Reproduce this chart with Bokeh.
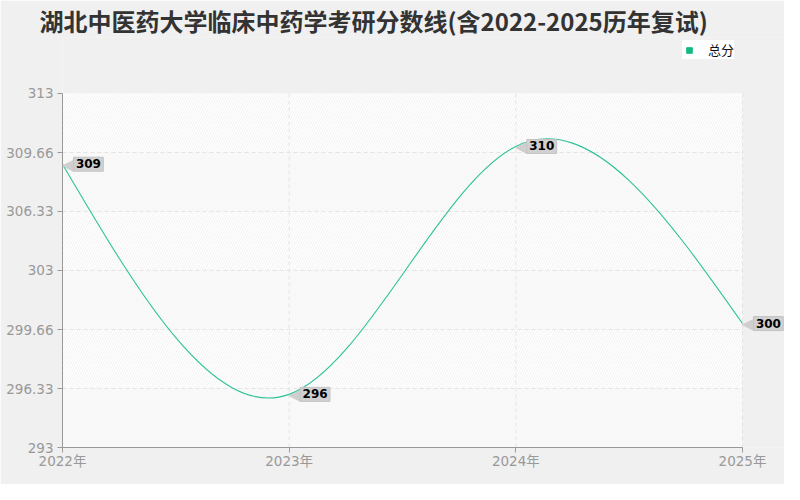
import numpy as np
from bokeh.plotting import figure
from bokeh.core.properties import value
from bokeh.models import (ColumnDataSource, FixedTicker, LabelSet, Legend,
                          LegendItem, Range1d)
from bokeh.embed import file_html
from bokeh.resources import INLINE

# ---- data ----
title_text = "湖北中医药大学临床中药学考研分数线(含2022-2025历年复试)"
series_name = "总分"
years = [2022, 2023, 2024, 2025]
year_labels = ["2022年", "2023年", "2024年", "2025年"]
scores = [309, 296, 310, 300]
y_ticks = [293, 296.33, 299.66, 303, 306.33, 309.66, 313]
y_tick_labels = ["293", "296.33", "299.66", "303", "306.33", "309.66", "313"]

LINE = "#2cc297"
LEG = "#14b981"
AXIS = "#999999"
GRID = "#e4e4e4"
BG = "#f0f0f0"
CJK = "Noto Sans CJK SC"

# layout (pixels, figure coordinates)
W, H = 784, 484
LEFT, TOP, BOTTOM = 62, 36, 37
AX_RIGHT, AX_TOP = 742, 92          # where the axes' ends should land
px_x = (AX_RIGHT - LEFT) / (years[-1] - years[0])
px_y = (H - BOTTOM - AX_TOP) / (y_ticks[-1] - y_ticks[0])
x_end = years[-1] + (W - AX_RIGHT) / px_x
y_end = y_ticks[-1] + (AX_TOP - TOP) / px_y

p = figure(width=W, height=H, output_backend="svg", toolbar_location=None,
           x_range=Range1d(years[0], x_end),
           y_range=Range1d(y_ticks[0], y_end),
           min_border_left=LEFT, min_border_right=0,
           min_border_top=TOP, min_border_bottom=BOTTOM)
p.background_fill_color = BG
p.border_fill_color = BG
p.outline_line_color = None
p.xgrid.visible = False
p.ygrid.visible = False

# ---- title ----
p.title.text = title_text
p.title.text_font = CJK
p.title.text_font_size = "24px"
p.title.text_font_style = "bold"
p.title.text_color = "#333333"
p.title.align = "left"
p.title.offset = -23
p.title.standoff = 0

# ---- alternating background bands ----
lows = y_ticks[:-1]
highs = y_ticks[1:]
hat_b = [lo for i, lo in enumerate(lows) if i % 2 == 1]
hat_t = [hi for i, hi in enumerate(highs) if i % 2 == 1]
lt_b = [lo for i, lo in enumerate(lows) if i % 2 == 0]
lt_t = [hi for i, hi in enumerate(highs) if i % 2 == 0]
p.quad(left=years[0], right=years[-1], bottom=hat_b, top=hat_t,
       fill_color="white", line_color=None,
       hatch_pattern="/", hatch_color="#ececec", hatch_scale=5,
       hatch_weight=0.7, level="image")
p.quad(left=years[0], right=years[-1], bottom=lt_b, top=lt_t,
       fill_color="#fafafa", line_color=None,
       hatch_pattern="/", hatch_color="#f4f4f4", hatch_scale=5,
       hatch_weight=0.7, level="image")

# ---- grid lines (limited to the axes' extent) ----
inner = y_ticks[1:-1]
p.segment(x0=[years[0]] * len(inner), x1=[years[-1]] * len(inner),
          y0=inner, y1=inner, line_color=GRID, line_dash="4 3", line_width=1,
          level="underlay")
p.segment(x0=years[1:], x1=years[1:],
          y0=[y_ticks[0]] * (len(years) - 1), y1=[y_ticks[-1]] * (len(years) - 1),
          line_color=GRID, line_dash="4 3", line_width=1, level="underlay")

# ---- natural cubic spline through the data, drawn as bezier segments ----
xs = np.array(years, dtype=float)
ys = np.array(scores, dtype=float)
n = len(xs)
h = np.diff(xs)
A = np.zeros((n, n))
rhs = np.zeros(n)
A[0, 0] = 1
A[-1, -1] = 1
for i in range(1, n - 1):
    A[i, i - 1] = h[i - 1]
    A[i, i] = 2 * (h[i - 1] + h[i])
    A[i, i + 1] = h[i]
    rhs[i] = 6 * ((ys[i + 1] - ys[i]) / h[i] - (ys[i] - ys[i - 1]) / h[i - 1])
M = np.linalg.solve(A, rhs)
d0 = (ys[1:] - ys[:-1]) / h - h * (2 * M[:-1] + M[1:]) / 6
d1 = (ys[1:] - ys[:-1]) / h + h * (M[:-1] + 2 * M[1:]) / 6
p.bezier(x0=xs[:-1], y0=ys[:-1], x1=xs[1:], y1=ys[1:],
         cx0=xs[:-1] + h / 3, cy0=ys[:-1] + h * d0 / 3,
         cx1=xs[1:] - h / 3, cy1=ys[1:] - h * d1 / 3,
         line_color=LINE, line_width=1.1)

# ---- callout labels ----
src = ColumnDataSource(dict(x=years, y=scores,
                            t=["\u2009%d\u2009" % v for v in scores],
                            a=["\u25c0"] * n))
arrows = LabelSet(x="x", y="y", text="a", source=src, x_offset=-1, y_offset=0,
                  text_align="left", text_baseline="middle",
                  text_font=value("DejaVu Sans"), text_font_size="16px",
                  text_color="#cfcfcf")
boxes = LabelSet(x="x", y="y", text="t", source=src, x_offset=11, y_offset=0,
                 text_align="left", text_baseline="middle",
                 text_font=value("DejaVu Sans"), text_font_size="12px",
                 text_font_style="bold", text_color="black",
                 background_fill_color="#d0d0d0", border_line_color="#c4c4c4")
p.add_layout(arrows)
p.add_layout(boxes)

# ---- axes ----
p.xaxis.ticker = FixedTicker(ticks=years)
p.xaxis.major_label_overrides = dict(zip(years, year_labels))
p.xaxis.bounds = (years[0], years[-1])
p.yaxis.ticker = FixedTicker(ticks=y_ticks)
p.yaxis.major_label_overrides = dict(zip(y_ticks, y_tick_labels))
p.yaxis.bounds = (y_ticks[0], y_ticks[-1])
for ax in (p.xaxis[0], p.yaxis[0]):
    ax.axis_line_color = AXIS
    ax.major_tick_line_color = AXIS
    ax.major_tick_out = 5
    ax.major_tick_in = 0
    ax.minor_tick_line_color = None
    ax.major_label_text_color = AXIS
    ax.major_label_text_font = "DejaVu Sans, " + CJK
    ax.major_label_text_font_size = "13.5px"
    ax.major_label_standoff = 4
p.xaxis[0].major_label_standoff = 0

# ---- legend (square swatch; its one point lies left of the visible range) ----
sq = p.scatter(x=[years[0] - 1], y=[scores[0]], marker="square", size=6,
               color=LEG)
legend = Legend(items=[LegendItem(label=series_name, renderers=[sq])],
                location=(AX_RIGHT - 60 - LEFT, H - BOTTOM - 59))
legend.background_fill_color = "white"
legend.background_fill_alpha = 1
legend.border_line_color = None
legend.label_text_font = CJK
legend.label_text_font_size = "13px"
legend.label_text_color = "#111111"
legend.glyph_width = 14
legend.glyph_height = 14
legend.label_height = 14
legend.label_standoff = 12
legend.padding = 4
legend.margin = 0
p.add_layout(legend, "center")

open("out.html", "w").write(file_html(p, INLINE))
